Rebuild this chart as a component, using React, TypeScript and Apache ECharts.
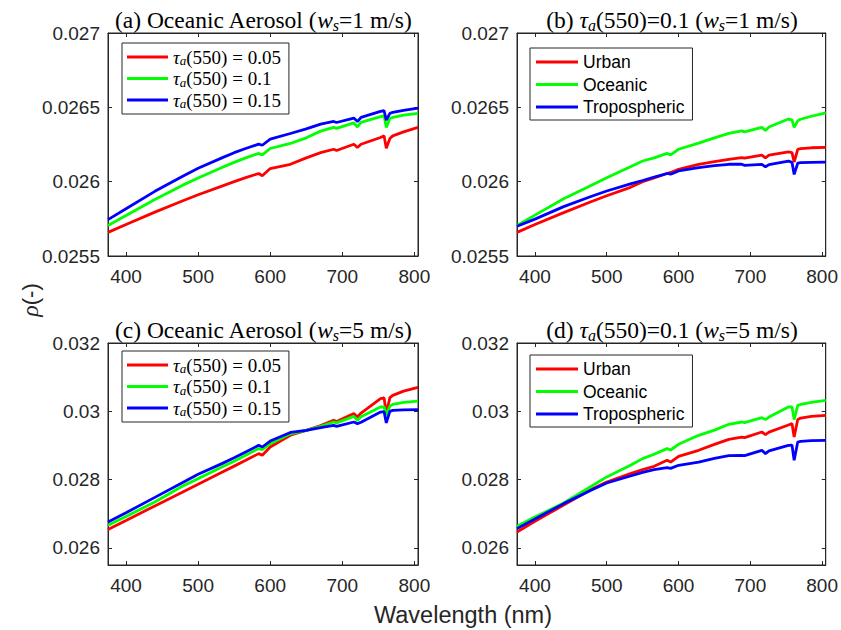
import React, { useEffect, useRef } from "react";
import * as echarts from "echarts";

// Wavelength samples (nm)
const WAVELENGTH = [375, 400, 440, 478, 500, 533, 550, 566, 584, 589, 600, 628, 650, 670, 688, 692, 716, 721, 726, 753, 758, 761, 766, 770, 785, 805];

// (a) Oceanic aerosol, ws = 1 m/s
const A_TAU_005 = [0.025659, 0.025712, 0.025795, 0.02587, 0.025912, 0.02597, 0.026, 0.026027, 0.026055, 0.02604, 0.026088, 0.026117, 0.02616, 0.026195, 0.026218, 0.02621, 0.026252, 0.02623, 0.026252, 0.026297, 0.026308, 0.026225, 0.02629, 0.026308, 0.026335, 0.026365];
const A_TAU_010 = [0.025705, 0.025772, 0.02588, 0.025975, 0.026025, 0.026095, 0.02613, 0.02616, 0.02619, 0.02618, 0.026223, 0.026257, 0.026295, 0.02634, 0.026365, 0.026358, 0.026395, 0.026368, 0.026399, 0.026437, 0.026443, 0.026365, 0.026425, 0.026432, 0.026448, 0.02646];
const A_TAU_015 = [0.025745, 0.025818, 0.025935, 0.026035, 0.02609, 0.02616, 0.026195, 0.026223, 0.026252, 0.026245, 0.026286, 0.026324, 0.026355, 0.026387, 0.026405, 0.026398, 0.026428, 0.026405, 0.026432, 0.026473, 0.026477, 0.026414, 0.02646, 0.026466, 0.02648, 0.026495];

// (b) tau = 0.1, ws = 1 m/s
const B_URBAN = [0.025659, 0.025712, 0.025792, 0.025865, 0.025905, 0.025962, 0.026, 0.026025, 0.026055, 0.026062, 0.026083, 0.026117, 0.026135, 0.02615, 0.026162, 0.026158, 0.026178, 0.02616, 0.026178, 0.0262, 0.026195, 0.026132, 0.026218, 0.026222, 0.026228, 0.02623];
const B_OCEANIC = [0.025705, 0.025775, 0.025885, 0.025975, 0.026027, 0.0261, 0.026139, 0.02616, 0.02619, 0.02618, 0.026218, 0.026259, 0.026295, 0.026325, 0.026342, 0.026335, 0.026365, 0.026345, 0.026368, 0.026421, 0.026415, 0.026365, 0.026409, 0.02642, 0.02644, 0.026462];
const B_TROPO = [0.0257, 0.025748, 0.025832, 0.0259, 0.025937, 0.025985, 0.026008, 0.02603, 0.026055, 0.02605, 0.026072, 0.026095, 0.026108, 0.026117, 0.026117, 0.02611, 0.026117, 0.0261, 0.026115, 0.026139, 0.02613, 0.026049, 0.026124, 0.026128, 0.02613, 0.026132];

// (c) Oceanic aerosol, ws = 5 m/s
const C_TAU_005 = [0.02654, 0.026805, 0.02723, 0.02763, 0.027865, 0.028215, 0.028395, 0.028565, 0.028761, 0.028712, 0.028955, 0.0293, 0.02944, 0.02958, 0.029736, 0.0297, 0.029932, 0.029833, 0.02995, 0.030372, 0.03039, 0.029932, 0.0304, 0.030468, 0.03059, 0.0307];
const C_TAU_010 = [0.026662, 0.02692, 0.027344, 0.027804, 0.028029, 0.028369, 0.02854, 0.028712, 0.028908, 0.028878, 0.029054, 0.02934, 0.029444, 0.02956, 0.029687, 0.02966, 0.029853, 0.029736, 0.02984, 0.030126, 0.03013, 0.029883, 0.03015, 0.030205, 0.03026, 0.030301];
const C_TAU_015 = [0.026759, 0.02703, 0.02748, 0.02791, 0.028155, 0.028468, 0.02864, 0.028808, 0.029004, 0.028955, 0.02913, 0.02938, 0.029444, 0.02952, 0.02959, 0.02956, 0.029687, 0.02964, 0.02968, 0.029979, 0.02999, 0.02966, 0.03, 0.030029, 0.03004, 0.03005];

// (d) tau = 0.1, ws = 5 m/s
const D_URBAN = [0.026466, 0.026779, 0.027256, 0.027707, 0.02793, 0.028176, 0.028293, 0.02839, 0.028565, 0.028515, 0.028682, 0.028858, 0.02903, 0.02918, 0.029247, 0.02923, 0.029394, 0.029318, 0.02939, 0.0296, 0.02964, 0.029247, 0.02976, 0.0298, 0.02985, 0.029883];
const D_OCEANIC = [0.026633, 0.026905, 0.027315, 0.0278, 0.02808, 0.02842, 0.028615, 0.028741, 0.028908, 0.028867, 0.029034, 0.029297, 0.02945, 0.02962, 0.029687, 0.02967, 0.029815, 0.029757, 0.02983, 0.030126, 0.03013, 0.029757, 0.030175, 0.0302, 0.03026, 0.03032];
const D_TROPO = [0.026565, 0.026846, 0.027297, 0.027687, 0.0279, 0.028105, 0.028214, 0.028293, 0.028351, 0.02833, 0.028419, 0.028515, 0.02862, 0.0287, 0.028712, 0.0287, 0.028858, 0.028761, 0.02884, 0.029004, 0.02901, 0.028565, 0.029101, 0.02912, 0.02914, 0.029151];

const TAU_NAMES = ["τa(550) = 0.05", "τa(550) = 0.1", "τa(550) = 0.15"];
const TYPE_NAMES = ["Urban", "Oceanic", "Tropospheric"];
const COLORS = ["#ff0000", "#00ff00", "#0000ff"];

const X_TICKS = [400, 500, 600, 700, 800];
const Y_TICKS_TOP = [0.0255, 0.026, 0.0265, 0.027];
const Y_TICKS_BOTTOM = [0.026, 0.028, 0.03, 0.032];

const TITLES = [
  "{n|(a) Oceanic Aerosol (}{i|w}{s|s}{n|=1 m/s)}",
  "{n|(b) }{i|τ}{s|a}{n|(550)=0.1 (}{i|w}{s|s}{n|=1 m/s)}",
  "{n|(c) Oceanic Aerosol (}{i|w}{s|s}{n|=5 m/s)}",
  "{n|(d) }{i|τ}{s|a}{n|(550)=0.1 (}{i|w}{s|s}{n|=5 m/s)}",
];

const PANELS = [
  { names: TAU_NAMES, values: [A_TAU_005, A_TAU_010, A_TAU_015], yMin: 0.0255, yMax: 0.027, yTicks: Y_TICKS_TOP },
  { names: TYPE_NAMES, values: [B_URBAN, B_OCEANIC, B_TROPO], yMin: 0.0255, yMax: 0.027, yTicks: Y_TICKS_TOP },
  { names: TAU_NAMES, values: [C_TAU_005, C_TAU_010, C_TAU_015], yMin: 0.0255, yMax: 0.032, yTicks: Y_TICKS_BOTTOM },
  { names: TYPE_NAMES, values: [D_URBAN, D_OCEANIC, D_TROPO], yMin: 0.0255, yMax: 0.032, yTicks: Y_TICKS_BOTTOM },
];

const GRIDS = [
  { left: 108, top: 33, width: 310, height: 223 },
  { left: 517, top: 33, width: 310, height: 223 },
  { left: 108, top: 343, width: 310, height: 222 },
  { left: 517, top: 343, width: 310, height: 222 },
];

const LEGEND_POS = [
  { left: 122, top: 43 },
  { left: 530, top: 48 },
  { left: 122, top: 351 },
  { left: 530, top: 355 },
];

const TITLE_POS = [
  { left: 263, top: 6 },
  { left: 672, top: 6 },
  { left: 263, top: 316 },
  { left: 672, top: 316 },
];

const AXIS_COLOR = "#262626";
const SERIF = "'Liberation Serif', 'DejaVu Serif', serif";
const SANS = "'Liberation Sans', Arial, sans-serif";

const fmtY = (v: number) => String(parseFloat(Number(v).toFixed(6)));

function buildOption() {
  const xAxis: any[] = [];
  const yAxis: any[] = [];
  const series: any[] = [];
  const legend: any[] = [];
  const title: any[] = [];

  const baseAxisLine = { show: true, onZero: false, lineStyle: { color: AXIS_COLOR, width: 1 } };

  GRIDS.forEach((_, i) => {
    xAxis.push({
      type: "value", gridIndex: i, position: "bottom", min: 375, max: 805,
      axisLine: baseAxisLine,
      axisTick: { show: true, inside: true, length: 4, customValues: X_TICKS, lineStyle: { color: AXIS_COLOR } },
      axisLabel: { customValues: X_TICKS, fontFamily: SANS, fontSize: 19, color: AXIS_COLOR, margin: 11 },
      splitLine: { show: false },
    });
  });
  GRIDS.forEach((_, i) => {
    xAxis.push({
      type: "value", gridIndex: i, position: "top", min: 375, max: 805,
      axisLine: baseAxisLine,
      axisTick: { show: true, inside: true, length: 4, customValues: X_TICKS, lineStyle: { color: AXIS_COLOR } },
      axisLabel: { show: false },
      splitLine: { show: false },
    });
  });
  PANELS.forEach((p, i) => {
    yAxis.push({
      type: "value", gridIndex: i, position: "left", min: p.yMin, max: p.yMax,
      axisLine: baseAxisLine,
      axisTick: { show: true, inside: true, length: 4, customValues: p.yTicks, lineStyle: { color: AXIS_COLOR } },
      axisLabel: { customValues: p.yTicks, formatter: fmtY, fontFamily: SANS, fontSize: 19, color: AXIS_COLOR, margin: 8 },
      splitLine: { show: false },
    });
  });
  PANELS.forEach((p, i) => {
    yAxis.push({
      type: "value", gridIndex: i, position: "right", min: p.yMin, max: p.yMax,
      axisLine: baseAxisLine,
      axisTick: { show: true, inside: true, length: 4, customValues: p.yTicks, lineStyle: { color: AXIS_COLOR } },
      axisLabel: { show: false },
      splitLine: { show: false },
    });
  });

  PANELS.forEach((p, i) => {
    p.names.forEach((name, k) => {
      series.push({
        type: "line", name, xAxisIndex: i, yAxisIndex: i,
        data: WAVELENGTH.map((w, j) => [w, p.values[k][j]]),
        showSymbol: false, symbol: "none",
        lineStyle: { color: COLORS[k], width: 2.8 },
        itemStyle: { color: COLORS[k] },
        z: 2 + k,
      });
    });

    const isTau = p.names === TAU_NAMES;
    legend.push({
      ...LEGEND_POS[i],
      orient: "vertical",
      data: p.names,
      selectedMode: false,
      backgroundColor: "#fff",
      borderColor: AXIS_COLOR,
      borderWidth: 1,
      borderRadius: 0,
      padding: isTau ? [4, 8, 4, 5] : [4, 8, 3, 6],
      itemGap: isTau ? 1.5 : 2.5,
      itemWidth: isTau ? 41 : 42,
      itemHeight: 3,
      icon: "rect",
      formatter: (name: string) => {
        if (name.startsWith("τa")) return "{g|τ}{s|a}{n|" + name.slice(2) + "}";
        return name;
      },
      textStyle: isTau
        ? {
            fontFamily: SERIF, fontSize: 19, color: "#000", lineHeight: 20,
            rich: {
              g: { fontFamily: SERIF, fontStyle: "italic", fontSize: 19, lineHeight: 20, color: "#000" },
              s: { fontFamily: SERIF, fontStyle: "italic", fontSize: 13, lineHeight: 10, verticalAlign: "bottom", color: "#000" },
              n: { fontFamily: SERIF, fontSize: 19, lineHeight: 20, color: "#000" },
            },
          }
        : { fontFamily: SANS, fontSize: 17.5, color: "#000", lineHeight: 20 },
    });

    title.push({
      text: TITLES[i],
      ...TITLE_POS[i],
      textAlign: "center",
      padding: 0,
      textStyle: {
        fontFamily: SERIF, fontSize: 23.5, fontWeight: "normal", color: "#000", lineHeight: 27,
        rich: {
          n: { fontFamily: SERIF, fontSize: 23.5, lineHeight: 27, color: "#000" },
          i: { fontFamily: SERIF, fontStyle: "italic", fontSize: 23.5, lineHeight: 27, color: "#000" },
          s: { fontFamily: SERIF, fontStyle: "italic", fontSize: 16, lineHeight: 14, verticalAlign: "bottom", color: "#000" },
        },
      },
    });
  });

  return {
    animation: false,
    backgroundColor: "#fff",
    title,
    grid: GRIDS.map((g) => ({ ...g, show: true, borderColor: AXIS_COLOR, borderWidth: 1, backgroundColor: "#fff", containLabel: false })),
    xAxis,
    yAxis,
    legend,
    series,
    graphic: [
      {
        type: "text", x: 463, y: 615, silent: true,
        style: { text: "Wavelength (nm)", fontFamily: SANS, fontSize: 23.5, fill: AXIS_COLOR, align: "center", verticalAlign: "middle" },
      },
      {
        type: "text", x: 30, y: 300, rotation: Math.PI / 2, silent: true,
        style: {
          text: "{r|ρ}{n|(-)}", align: "center", verticalAlign: "middle", fill: AXIS_COLOR,
          rich: {
            r: { fontFamily: SERIF, fontStyle: "italic", fontSize: 24, fill: AXIS_COLOR },
            n: { fontFamily: SANS, fontSize: 22, fill: AXIS_COLOR },
          },
        },
      },
    ],
  };
}

export default function App() {
  const ref = useRef<HTMLDivElement>(null);
  useEffect(() => {
    if (!ref.current) return;
    const chart = echarts.init(ref.current, undefined, { renderer: "svg" });
    chart.setOption(buildOption() as any);
    return () => chart.dispose();
  }, []);
  return (
    <div
      ref={ref}
      style={{ position: "absolute", left: 0, top: 0, width: 841, height: 630, background: "#fff" }}
    />
  );
}
